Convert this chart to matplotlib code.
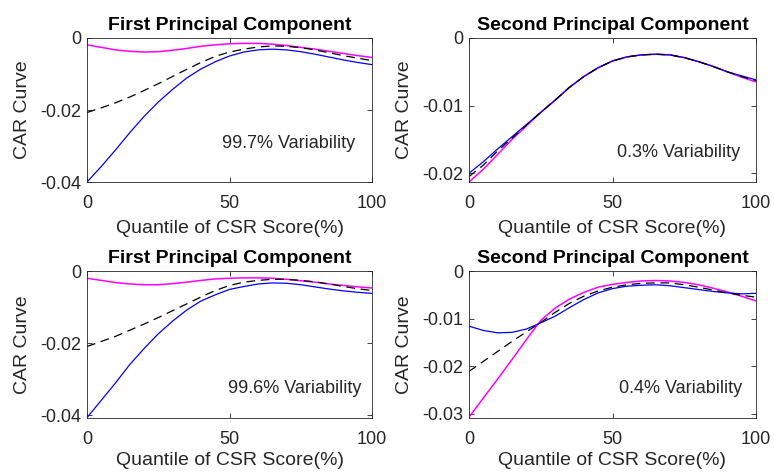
import numpy as np
import matplotlib
matplotlib.use("Agg")
import matplotlib.pyplot as plt

plt.rcParams["font.family"] = ["Liberation Sans", "DejaVu Sans"]
plt.rcParams["axes.unicode_minus"] = False

# Quantile grid (%)
q = [0, 5, 10, 15, 20, 25, 30, 35, 40, 45, 50, 55, 60, 65, 70, 75, 80, 85, 90, 95, 100]

# Top left: first principal component (99.7%)
tl_blue = [-0.0400, -0.0357, -0.0311, -0.0263, -0.0218, -0.0178, -0.0143, -0.0111, -0.0086, -0.0066, -0.0050,
           -0.0039, -0.0033, -0.0031, -0.0033, -0.0038, -0.0045, -0.0053, -0.0061, -0.0068, -0.0074]
tl_mean = [-0.0207, -0.0194, -0.0180, -0.0164, -0.0146, -0.0127, -0.0107, -0.0087, -0.0068, -0.0051, -0.0039,
           -0.0031, -0.0025, -0.0022, -0.0023, -0.0027, -0.0033, -0.0041, -0.0049, -0.0056, -0.0063]
tl_mag = [-0.0019, -0.0026, -0.0033, -0.0037, -0.0039, -0.0038, -0.0034, -0.0029, -0.0023, -0.0019, -0.0016,
          -0.0015, -0.0015, -0.0017, -0.0021, -0.0026, -0.0031, -0.0037, -0.0043, -0.0049, -0.0054]

# Top right: second principal component (0.3%)
tr_mean = [-0.0205, -0.0188, -0.0167, -0.0148, -0.0129, -0.0110, -0.0092, -0.0073, -0.0057, -0.0044, -0.0034,
           -0.0028, -0.0025, -0.0024, -0.0025, -0.0029, -0.0035, -0.0042, -0.0050, -0.0057, -0.0063]
tr_blue = [-0.0200, -0.0183, -0.0164, -0.0146, -0.0128, -0.0110, -0.0092, -0.0073, -0.0057, -0.0044, -0.0034,
           -0.0028, -0.0025, -0.0024, -0.0025, -0.0029, -0.0035, -0.0042, -0.0050, -0.0056, -0.0062]
tr_mag = [-0.0213, -0.0194, -0.0172, -0.0150, -0.0130, -0.0110, -0.0092, -0.0073, -0.0057, -0.0044, -0.0034,
          -0.0028, -0.0025, -0.0024, -0.0025, -0.0029, -0.0035, -0.0042, -0.0050, -0.0058, -0.0065]

# Bottom left: first principal component (99.6%)
bl_blue = [-0.0406, -0.0358, -0.0310, -0.0259, -0.0215, -0.0174, -0.0139, -0.0108, -0.0083, -0.0066, -0.0051,
           -0.0043, -0.0036, -0.0033, -0.0034, -0.0038, -0.0044, -0.0050, -0.0055, -0.0059, -0.0062]
bl_mean = [-0.0209, -0.0195, -0.0181, -0.0164, -0.0147, -0.0129, -0.0110, -0.0091, -0.0072, -0.0054, -0.0040,
           -0.0031, -0.0026, -0.0023, -0.0023, -0.0026, -0.0030, -0.0036, -0.0043, -0.0049, -0.0054]
bl_mag = [-0.0020, -0.0026, -0.0032, -0.0036, -0.0038, -0.0038, -0.0035, -0.0031, -0.0026, -0.0022, -0.0020,
          -0.0019, -0.0019, -0.0020, -0.0023, -0.0027, -0.0031, -0.0036, -0.0040, -0.0044, -0.0047]

# Bottom right: second principal component (0.4%)
br_blue = [-0.0116, -0.0125, -0.0130, -0.0129, -0.0122, -0.0109, -0.0095, -0.0077, -0.0060, -0.0046, -0.0037,
           -0.0032, -0.0030, -0.0029, -0.0031, -0.0035, -0.0039, -0.0043, -0.0046, -0.0048, -0.0047]
br_mean = [-0.0211, -0.0190, -0.0169, -0.0148, -0.0128, -0.0108, -0.0087, -0.0068, -0.0053, -0.0042, -0.0034,
           -0.0029, -0.0026, -0.0025, -0.0025, -0.0029, -0.0034, -0.0040, -0.0046, -0.0051, -0.0055]
br_mag = [-0.0307, -0.0267, -0.0227, -0.0186, -0.0144, -0.0104, -0.0078, -0.0059, -0.0045, -0.0034, -0.0028,
          -0.0024, -0.0021, -0.0020, -0.0021, -0.0024, -0.0029, -0.0036, -0.0044, -0.0053, -0.0063]

titles = ["First Principal Component", "Second Principal Component",
          "First Principal Component", "Second Principal Component"]
notes = ["99.7% Variability", "0.3% Variability", "99.6% Variability", "0.4% Variability"]
x_ticks = [0, 50, 100]
y_ticks = [[0, -0.02, -0.04], [0, -0.01, -0.02], [0, -0.02, -0.04], [0, -0.01, -0.02, -0.03]]
y_ticklabels = [["0", "-0.02", "-0.04"], ["0", "-0.01", "-0.02"],
                ["0", "-0.02", "-0.04"], ["0", "-0.01", "-0.02", "-0.03"]]
y_bottom = [-0.040, -0.0213, -0.0407, -0.0309]

series = [(tl_blue, tl_mean, tl_mag), (tr_blue, tr_mean, tr_mag),
          (bl_blue, bl_mean, bl_mag), (br_blue, br_mean, br_mag)]

# axes rectangles in figure fractions [left, bottom, width, height]
W, H = 774, 473
rects = [
    [87 / W, 1 - 182 / H, 285 / W, 144 / H],
    [469 / W, 1 - 182 / H, 287 / W, 144 / H],
    [87 / W, 1 - 418 / H, 285 / W, 147 / H],
    [469 / W, 1 - 418 / H, 287 / W, 147 / H],
]
note_pos = [(0.474, 0.264), (0.516, 0.208), (0.495, 0.204), (0.523, 0.204)]
xlabel_pad = [5.5, 5.5, 2.5, 2.5]

dark = "#262626"
fig = plt.figure(figsize=(7.74, 4.73), dpi=100)

for i in range(4):
    ax = fig.add_axes(rects[i])
    blue, mean, mag = series[i]
    ax.plot(q, mag, color="#ff00ff", lw=1.1)
    ax.plot(q, blue, color="#0000ff", lw=0.9)
    ax.plot(q, mean, color="black", lw=0.9, linestyle=(0, (7, 4.5)))

    ax.set_xlim(0, 100)
    ax.set_ylim(y_bottom[i], 0)
    ax.set_xticks(x_ticks)
    ax.set_xticklabels([str(t) for t in x_ticks])
    ax.set_yticks(y_ticks[i])
    ax.set_yticklabels(y_ticklabels[i])
    ax.tick_params(direction="in", length=3.5, width=0.6, top=True, right=True,
                   labelsize=13, colors=dark)
    ax.tick_params(axis="x", pad=9.5)
    ax.tick_params(axis="y", pad=4)
    for sp in ax.spines.values():
        sp.set_linewidth(0.6)
        sp.set_color(dark)

    ax.set_title(titles[i], fontsize=14, fontweight="bold", color="black", pad=6)
    ax.set_xlabel("Quantile of CSR Score(%)", fontsize=14, color=dark, labelpad=xlabel_pad[i])
    ax.set_ylabel("CAR Curve", fontsize=14, color=dark)
    ax.yaxis.set_label_coords(-0.196, 0.5)
    ax.text(note_pos[i][0], note_pos[i][1], notes[i], transform=ax.transAxes,
            fontsize=13, color=dark, ha="left", va="center")

fig.savefig("out.png", dpi=100)
